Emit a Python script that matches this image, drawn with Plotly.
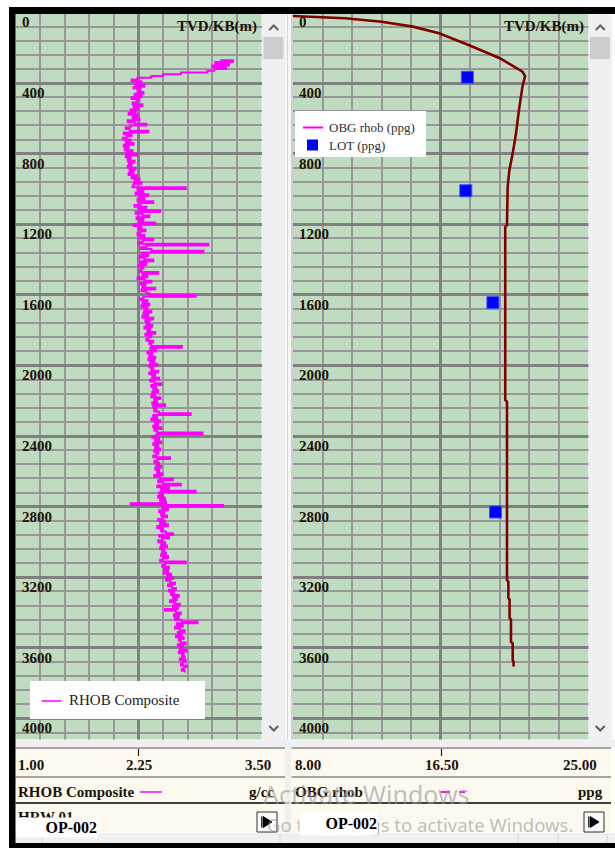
import plotly.graph_objects as go

# ---------------- data ----------------
# RHOB Composite (g/cc), sampled every 10 m from 270 m TVD
rhob_start = 270
rhob_step = 10
rhob_values = [
    3.08, 3.21, 3.03, 3.17, 3.00, 3.14, 3.02, 2.95, 2.68, 2.50,
    2.38, 2.24, 2.18, 2.28, 2.22, 2.31, 2.20, 2.27, 2.24, 2.30,
    2.21, 2.28, 2.18, 2.26, 2.23, 2.19, 2.29, 2.20, 2.25, 2.17,
    2.22, 2.15, 2.24, 2.19, 2.26, 2.14, 2.21, 2.33, 2.17, 2.12,
    2.16, 2.35, 2.10, 2.18, 2.13, 2.09, 2.17, 2.12, 2.20, 2.10,
    2.15, 2.11, 2.19, 2.13, 2.24, 2.12, 2.17, 2.14, 2.21, 2.15,
    2.18, 2.14, 2.22, 2.16, 2.20, 2.15, 2.23, 2.18, 2.26, 2.21,
    2.28, 2.20, 2.19, 2.73, 2.24, 2.30, 2.22, 2.35, 2.26, 2.31,
    2.24, 2.40, 2.27, 2.21, 2.33, 2.26, 2.47, 2.22, 2.29, 2.36,
    2.23, 2.30, 2.26, 2.42, 2.20, 2.28, 2.25, 2.32, 2.27, 2.24,
    2.31, 2.26, 2.40, 2.29, 2.25, 2.96, 2.33, 2.27, 2.38, 2.91,
    2.28, 2.35, 2.26, 2.31, 2.40, 2.27, 2.33, 2.25, 2.30, 2.28,
    2.26, 2.45, 2.29, 2.34, 2.24, 2.31, 2.38, 2.27, 2.32, 2.29,
    2.42, 2.28, 2.33, 2.36, 2.83, 2.30, 2.27, 2.34, 2.29, 2.36,
    2.28, 2.34, 2.31, 2.38, 2.30, 2.35, 2.29, 2.40, 2.32, 2.36,
    2.33, 2.39, 2.31, 2.37, 2.34, 2.42, 2.32, 2.38, 2.35, 2.33,
    2.40, 2.36, 2.38, 2.69, 2.37, 2.43, 2.34, 2.39, 2.36, 2.42,
    2.35, 2.41, 2.37, 2.44, 2.36, 2.40, 2.38, 2.45, 2.36, 2.42,
    2.39, 2.46, 2.37, 2.41, 2.48, 2.38, 2.43, 2.40, 2.45, 2.39,
    2.42, 2.38, 2.47, 2.41, 2.44, 2.39, 2.52, 2.40, 2.43, 2.41,
    2.46, 2.78, 2.40, 2.44, 2.38, 2.47, 2.42, 2.45, 2.40, 2.48,
    2.41, 2.44, 2.90, 2.43, 2.39, 2.46, 2.42, 2.48, 2.40, 2.45,
    2.42, 2.47, 2.41, 2.45, 2.43, 2.40, 2.57, 2.44, 2.41, 2.46,
    2.43, 2.48, 2.42, 2.46, 2.44, 2.49, 2.41, 2.47, 2.60, 2.45,
    2.50, 2.68, 2.44, 2.56, 2.48, 2.83, 2.46, 2.50, 2.45, 2.52,
    2.47, 2.53, 2.17, 3.11, 2.49, 2.55, 2.46, 2.51, 2.48, 2.54,
    2.49, 2.45, 2.52, 2.47, 2.55, 2.44, 2.50, 2.48, 2.53, 2.60,
    2.46, 2.56, 2.49, 2.45, 2.52, 2.48, 2.54, 2.47, 2.51, 2.49,
    2.53, 2.48, 2.55, 2.50, 2.47, 2.73, 2.52, 2.49, 2.56, 2.51,
    2.55, 2.51, 2.58, 2.54, 2.60, 2.53, 2.57, 2.62, 2.55, 2.59,
    2.63, 2.56, 2.61, 2.58, 2.66, 2.60, 2.64, 2.57, 2.62, 2.67,
    2.60, 2.65, 2.52, 2.63, 2.68, 2.61, 2.66, 2.62, 2.69, 2.85,
    2.64, 2.70, 2.62, 2.67, 2.72, 2.65, 2.69, 2.63, 2.71, 2.66,
    2.68, 2.73, 2.65, 2.70, 2.67, 2.74, 2.66, 2.71, 2.69, 2.72,
    2.67, 2.73, 2.70, 2.68, 2.74, 2.71, 2.69, 2.72,
]
rhob_depth = [rhob_start + rhob_step * i for i in range(len(rhob_values))]

# Overburden gradient (ppg) vs depth (m)
obg_depth = [20, 33, 52, 80, 118, 184, 259, 335, 360, 420, 552, 684, 798, 892,
             987, 1045, 1204, 1215, 2195, 2205, 3215, 3225, 3317, 3327, 3430,
             3440, 3565, 3575, 3669, 3679, 3706]
obg_ppg = [8.0, 11.0, 13.1, 14.9, 16.4, 18.1, 19.9, 21.2, 21.35, 21.2, 21.0,
           20.83, 20.64, 20.45, 20.35, 20.33, 20.31, 20.21, 20.21, 20.31, 20.31,
           20.39, 20.39, 20.46, 20.46, 20.54, 20.54, 20.64, 20.64, 20.69, 20.69]

# Leak-off tests (ppg)
lot_depth = [367, 1010, 1644, 2830]
lot_ppg = [18.03, 17.94, 19.50, 19.65]

depth_ticks = [0, 400, 800, 1200, 1600, 2000, 2400, 2800, 3200, 3600, 4000]
depth_labels = [str(d) for d in depth_ticks]

rhob_scale = ["1.00", "2.25", "3.50"]
obg_scale = ["8.00", "16.50", "25.00"]

# ---------------- layout helpers ----------------
W, H = 615, 848
SERIF = "Liberation Serif"


def px(x):
    return x / W


def py(y):
    return 1 - y / H


GREEN = "#c0dcc0"
CREAM = "#fdf9ef"
LIGHT = "#f0f0f0"
TXT = "#1a1208"

ydom = [py(739.5), py(14)]
yrange = [4119, 8.5]


def depth_to_paper(d):
    # same linear mapping as the (reversed) depth axes
    return ydom[1] - (d - yrange[1]) / (yrange[0] - yrange[1]) * (ydom[1] - ydom[0])


fig = go.Figure()

fig.add_trace(go.Scatter(
    x=rhob_values, y=rhob_depth, mode="lines", line=dict(color="#ff00ff", width=2.0, shape="hv"),
    xaxis="x", yaxis="y", showlegend=False, hoverinfo="skip"))

fig.add_trace(go.Scatter(
    x=obg_ppg, y=obg_depth, mode="lines", line=dict(color="#800000", width=2.6),
    xaxis="x2", yaxis="y2", showlegend=False, hoverinfo="skip"))

fig.add_trace(go.Scatter(
    x=lot_ppg, y=lot_depth, mode="markers",
    marker=dict(symbol="square", size=12, color="#0000ff", line=dict(color="#3355ff", width=1)),
    xaxis="x2", yaxis="y2", showlegend=False, hoverinfo="skip"))

grid_major = "#808080"
grid_minor = "#979797"


def xaxis(dom, rng, dt, minor_dt, anchor):
    return dict(domain=dom, range=rng, anchor=anchor, tick0=rng[0], dtick=dt,
                showgrid=True, gridcolor=grid_major, gridwidth=3,
                minor=dict(tick0=rng[0], dtick=minor_dt, showgrid=True,
                           gridcolor=grid_minor, gridwidth=2),
                showticklabels=False, ticks="", zeroline=False, showline=False,
                fixedrange=True)


def yaxis(anchor):
    return dict(domain=ydom, range=yrange, anchor=anchor, tick0=0, dtick=400,
                showgrid=True, gridcolor=grid_major, gridwidth=3,
                minor=dict(tick0=0, dtick=80, showgrid=True, gridcolor=grid_minor, gridwidth=2),
                showticklabels=False, ticks="", zeroline=False, showline=False,
                fixedrange=True)


shapes = []


def rect(x0, y0, x1, y1, fill, line_color=None, lw=0):
    shapes.append(dict(type="rect", xref="paper", yref="paper",
                       x0=px(x0), x1=px(x1), y0=py(y1), y1=py(y0),
                       fillcolor=fill, line=dict(color=line_color or fill, width=lw),
                       layer="above"))


def hline(x0, x1, y, color, w=1, dash="solid"):
    shapes.append(dict(type="line", xref="paper", yref="paper",
                       x0=px(x0), x1=px(x1), y0=py(y), y1=py(y),
                       line=dict(color=color, width=w, dash=dash), layer="above"))


def vline(x, y0, y1, color, w=1):
    shapes.append(dict(type="line", xref="paper", yref="paper",
                       x0=px(x), x1=px(x), y0=py(y0), y1=py(y1),
                       line=dict(color=color, width=w), layer="above"))


def path(points, color, w=2, fill=None, close=False):
    d = "M " + " L ".join(f"{px(a):.5f},{py(b):.5f}" for a, b in points)
    if close:
        d += " Z"
    shapes.append(dict(type="path", xref="paper", yref="paper", path=d,
                       line=dict(color=color, width=w),
                       fillcolor=fill if fill else "rgba(0,0,0,0)", layer="above"))


# scrollbars and divider
for sx0, sx1 in [(262, 285.5), (588.5, 612)]:
    rect(sx0, 14, sx1, 739.5, LIGHT)
    rect(sx0 + 1.5, 37, sx1 - 2, 59, "#cdcdcd")
    cx = (sx0 + sx1) / 2
    path([(cx - 4.5, 30), (cx, 25.5), (cx + 4.5, 30)], "#606060", 2)
    path([(cx - 4.5, 726), (cx, 730.5), (cx + 4.5, 726)], "#606060", 2)
rect(285.5, 14, 293, 739.5, "#f6f6f6")
vline(287.5, 14, 739.5, "#d6d6d6", 1)
vline(292, 14, 739.5, "#a8a8a8", 1)

# legend boxes
rect(30, 681, 205, 719, "white")
hline(41.5, 61.5, 701, "#ff00ff", 1.5)
rect(295, 111, 426, 157, "white")
hline(303, 323, 127.5, "#ff00ff", 2)
rect(307, 139.5, 318, 150.5, "#0000ff")

# bottom area
rect(15.5, 739.5, 615, 747.5, LIGHT)
rect(285, 747.5, 291.5, 843, LIGHT)
for bx0, bx1 in [(15.5, 285), (291.5, 611)]:
    rect(bx0, 747.5, bx1, 833, CREAM)
    hline(bx0, bx1, 748, "#8a8a8a", 1.5)
    hline(bx0, bx1, 777, "#505050", 1)
    hline(bx0, bx1, 803, "#404040", 2)
rect(15.5, 833, 615, 843, LIGHT)
for vx in [42, 280, 518, 558, 607]:
    vline(vx, 834, 843, "#d0d0d0", 1)
vline(138.5, 749, 756, "#202020", 1.2)
vline(441.5, 749, 756, "#202020", 1.2)
hline(140, 162, 792, "#ff00ff", 1.5)
hline(441, 465, 792, "#ff00ff", 2, "dash")

# play buttons
for bx in [257, 584]:
    rect(bx, 812, bx + 20, 832, "#fafafa", "#303030", 1)
    path([(bx + 6, 816.5), (bx + 15, 822), (bx + 6, 827.5)], "black", 1, fill="black", close=True)
    vline(bx + 4.5, 816.5, 827.5, "#303030", 1)

# black frame
rect(9, 7, 615, 14, "black")
rect(9, 7, 15.5, 848, "black")
rect(9, 843, 615, 848, "black")

annotations = []


def text(x, y, s, size=15, anchor="left", bold=True, color=TXT, family=SERIF, **kw):
    annotations.append(dict(xref="paper", yref="paper", x=px(x), y=py(y),
                            xanchor=anchor, yanchor="middle", showarrow=False,
                            text=f"<b>{s}</b>" if bold else s,
                            font=dict(family=family, size=size, color=color), **kw))


# depth labels, placed just below each major depth line
for xpos in [20, 297]:
    for d, lab in zip(depth_ticks, depth_labels):
        annotations.append(dict(xref="paper", yref="paper", x=px(xpos), y=depth_to_paper(d),
                                xanchor="left", yanchor="middle", yshift=-10,
                                showarrow=False, text=f"<b>{lab}</b>",
                                font=dict(family=SERIF, size=15, color=TXT)))

text(259, 27, "TVD/KB(m)", anchor="right")
text(586, 27, "TVD/KB(m)", anchor="right")

# legends text
text(67, 700, "RHOB Composite", size=15, bold=False, color="#222222")
text(327, 127.5, "OBG rhob (ppg)", size=13, bold=False, color="#303030")
text(327, 145, "LOT (ppg)", size=13, bold=False, color="#303030")

# scale labels
text(16, 765, rhob_scale[0])
text(139, 765, rhob_scale[1], anchor="center")
text(273, 765, rhob_scale[2], anchor="right")
text(293, 765, obg_scale[0])
text(441.5, 765, obg_scale[1], anchor="center")
text(599, 765, obg_scale[2], anchor="right")
text(16, 792, "RHOB Composite")
text(276, 792, "g/cc", anchor="right")
text(293, 792, "OBG rhob")
text(605, 792, "ppg", anchor="right")
text(16, 817, "HRW 01")

# windows watermark
WM = "rgba(150,150,150,0.6)"
text(261, 794, "Activate Windows", size=25, bold=False, color=WM, family="Noto Sans")
text(265, 824, "Go to Settings to activate Windows.", size=18.5, bold=False,
     color=WM, family="Noto Sans")

# well name boxes (on top)
annotations.append(dict(xref="paper", yref="paper", x=px(57), y=py(827.5), xanchor="center",
                        yanchor="middle", showarrow=False, text="<b>OP-002</b>",
                        width=80, height=19, align="right", bgcolor="white", borderpad=0,
                        font=dict(family=SERIF, size=16, color="black")))
annotations.append(dict(xref="paper", yref="paper", x=px(338.5), y=py(823.5), xanchor="center",
                        yanchor="middle", showarrow=False, text="<b>OP-002</b>",
                        width=77, height=23, align="right", bgcolor="white", borderpad=0,
                        font=dict(family=SERIF, size=16, color="black")))

fig.update_layout(
    width=W, height=H, autosize=False,
    margin=dict(l=0, r=0, t=0, b=0, pad=0),
    paper_bgcolor="white", plot_bgcolor=GREEN,
    showlegend=False,
    xaxis=xaxis([px(15.5), px(261.5)], [1, 3.5], 1.25, 0.25, "y"),
    yaxis=yaxis("x"),
    xaxis2=xaxis([px(293), px(588.5)], [8, 25], 8.5, 1.7, "y2"),
    yaxis2=yaxis("x2"),
    shapes=shapes,
    annotations=annotations,
)

fig.write_html("out.html", config={"displayModeBar": False},
               post_script="document.body.style.margin='0';document.body.style.overflow='hidden';")
